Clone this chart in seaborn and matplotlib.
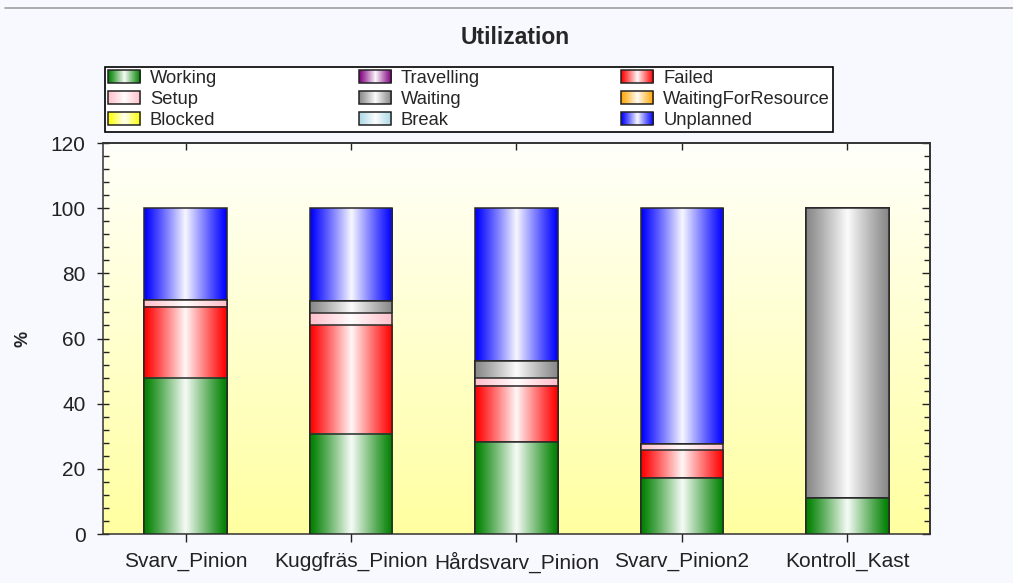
import numpy as np
import pandas as pd
import matplotlib.pyplot as plt
import seaborn as sns
from matplotlib.colors import to_rgb
from matplotlib.legend_handler import HandlerBase
from matplotlib.image import BboxImage
from matplotlib.transforms import Bbox, TransformedBbox
from matplotlib.patches import Patch, Rectangle
from matplotlib.lines import Line2D
from matplotlib.ticker import MultipleLocator

# Data (percent of time per state)
machines = ["Svarv_Pinion", "Kuggfräs_Pinion", "Hårdsvarv_Pinion", "Svarv_Pinion2", "Kontroll_Kast"]
working = [48.0, 30.8, 28.2, 17.1, 11.0]
travelling = [0, 0, 0, 0, 0]
failed = [21.7, 33.2, 17.3, 8.6, 0]
setup = [2.0, 3.8, 2.3, 1.8, 0]
waiting = [0, 3.7, 5.2, 0, 89.0]
waiting_res = [0, 0, 0, 0, 0]
blocked = [0, 0, 0, 0, 0]
break_ = [0, 0, 0, 0, 0]
unplanned = [28.3, 28.5, 47.0, 72.5, 0]

states = ["Working", "Travelling", "Failed", "Setup", "Waiting",
          "WaitingForResource", "Blocked", "Break", "Unplanned"]
colors = {
    "Working": "#008000", "Travelling": "#800080", "Failed": "#ff0000",
    "Setup": "#ffc0cb", "Waiting": "#888888", "WaitingForResource": "#ffa500",
    "Blocked": "#ffff00", "Break": "#add8e6", "Unplanned": "#0000ff",
}

df = pd.DataFrame({
    "Machine": machines, "Working": working, "Travelling": travelling,
    "Failed": failed, "Setup": setup, "Waiting": waiting,
    "WaitingForResource": waiting_res, "Blocked": blocked,
    "Break": break_, "Unplanned": unplanned,
})
cum = df[states].cumsum(axis=1)


def cylinder(color, n=80):
    # colour at the edges, near-white highlight in the middle
    u = np.linspace(-1, 1, n)
    w = (1 - np.abs(u)) ** 1.1 * 0.97
    c = np.array(to_rgb(color))
    row = c[None, :] * (1 - w[:, None]) + w[:, None]
    return row[None, :, :]


class GradientHandler(HandlerBase):
    def create_artists(self, legend, orig_handle, xdescent, ydescent,
                       width, height, fontsize, trans):
        bb = TransformedBbox(Bbox.from_bounds(-xdescent, -ydescent, width, height), trans)
        im = BboxImage(bb, interpolation="bilinear")
        im.set_data(cylinder(orig_handle.get_facecolor()[:3]))
        rect = Rectangle((-xdescent, -ydescent), width, height, fill=False,
                         edgecolor="#222222", lw=1.1, transform=trans)
        return [im, rect]


sns.set_theme(style="ticks")
plt.rcParams["font.family"] = ["Liberation Sans", "DejaVu Sans"]

fig = plt.figure(figsize=(10.13, 5.83), dpi=100, facecolor="#f8f8ff")
ax = fig.add_axes([0.1017, 0.084, 0.8163, 0.6707])

# yellow vertical gradient behind the bars
bg = np.linspace(0.63, 0.985, 100)[:, None]
bg_img = np.dstack([np.ones_like(bg), np.ones_like(bg), bg])
ax.imshow(bg_img, extent=(0, 1, 0, 1), transform=ax.transAxes, aspect="auto",
          origin="lower", zorder=0)

# stacked bars: draw cumulative totals from the top state down
z = 2
for state in reversed(states):
    n0 = len(ax.patches)
    sns.barplot(x=df["Machine"], y=cum[state], color=colors[state], order=machines,
                width=0.5, saturation=1, linewidth=1.1, edgecolor="#2a2a2a",
                errorbar=None, ax=ax)
    for p in ax.patches[n0:]:
        h = p.get_height()
        if h <= 0:
            continue
        x0, w = p.get_x(), p.get_width()
        ax.imshow(cylinder(colors[state]), extent=(x0, x0 + w, 0, h),
                  aspect="auto", interpolation="bilinear", zorder=z)
        p.set_facecolor("none")
        p.set_zorder(z + 0.5)
    z += 1

ax.set_xlim(-0.5, 4.5)
ax.set_ylim(0, 120)
ax.yaxis.set_major_locator(MultipleLocator(20))
ax.yaxis.set_minor_locator(MultipleLocator(4))
ax.set_xlabel("")
ax.set_ylabel("%", fontsize=13, fontweight="bold", labelpad=14)

ax.tick_params(axis="y", which="major", direction="inout", length=9, width=1,
               labelsize=15, pad=8, colors="#222222")
ax.tick_params(axis="y", which="minor", direction="in", length=4, width=1, left=True,
               colors="#222222")
ax.tick_params(axis="x", direction="inout", length=11, width=1, labelsize=15,
               pad=7, colors="#222222")
ax.tick_params(top=False, right=False)

for sp in ax.spines.values():
    sp.set_color("#333333")
    sp.set_linewidth(1.1)
    sp.set_visible(True)

sec_y = ax.secondary_yaxis("right")
sec_y.yaxis.set_major_locator(MultipleLocator(20))
sec_y.yaxis.set_minor_locator(MultipleLocator(4))
sec_y.tick_params(which="major", direction="in", length=6, width=1, labelright=False,
                  colors="#222222")
sec_y.tick_params(which="minor", direction="in", length=4, width=1, colors="#222222")
sec_y.spines["right"].set_color("#333333")

sec_x = ax.secondary_xaxis("top")
sec_x.set_xticks(range(len(machines)))
sec_x.tick_params(direction="in", length=5, width=1, labeltop=False, colors="#222222")
sec_x.spines["top"].set_color("#333333")

# legend laid out row by row, like the original
handles = [Patch(facecolor=colors[s], label=s) for s in states]
order = [0, 3, 6, 1, 4, 7, 2, 5, 8]
leg = fig.legend(handles=[handles[i] for i in order], ncol=3, mode="expand",
                 loc="upper left", bbox_to_anchor=(0.1037, 0.775, 0.7185, 0.11),
                 handler_map={Patch: GradientHandler()}, frameon=True,
                 fancybox=False, edgecolor="black", framealpha=1, facecolor="white",
                 fontsize=13.2, handlelength=1.75, handleheight=0.66,
                 handletextpad=0.55, labelspacing=0.22, borderpad=0.15,
                 borderaxespad=0)
leg.get_frame().set_linewidth(1.2)

fig.text(0.509, 1 - 38 / 583, "Utilization", fontsize=16.5, fontweight="bold",
         ha="center", va="center")
fig.add_artist(Line2D([0.005, 1], [1 - 8 / 583] * 2, color="#a0a0a0", lw=1.2,
                      transform=fig.transFigure))

fig.savefig("out.png", dpi=100, facecolor=fig.get_facecolor())
